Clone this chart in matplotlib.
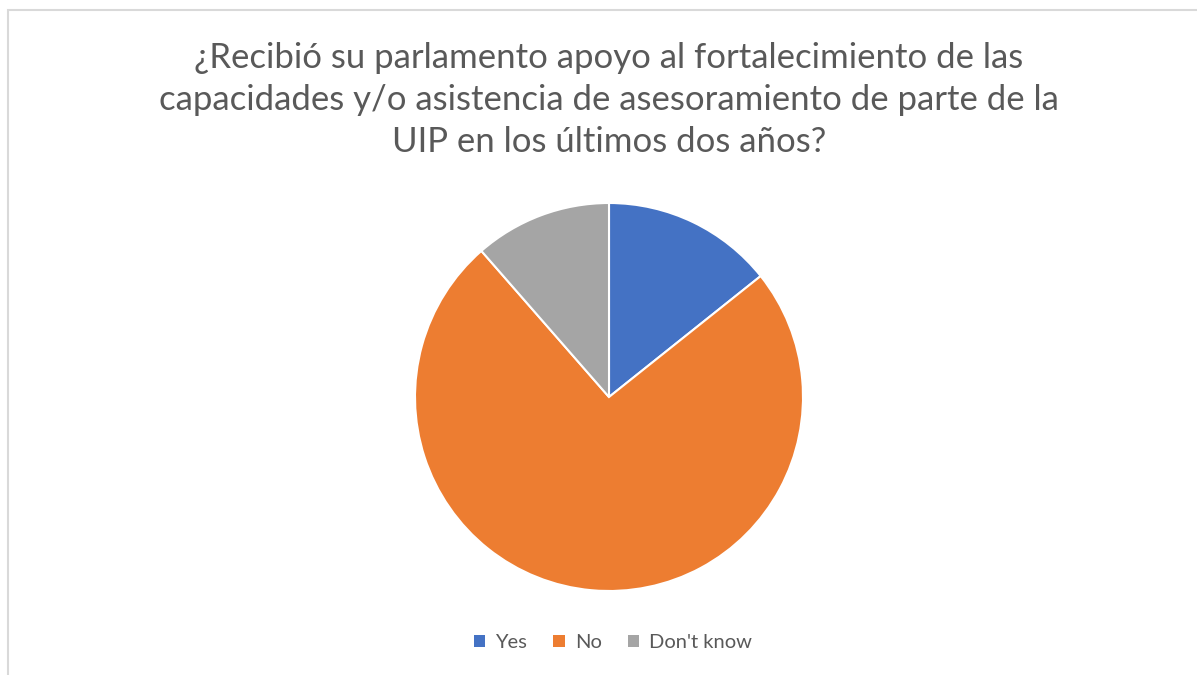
import matplotlib
matplotlib.use('Agg')
import matplotlib.pyplot as plt
from matplotlib.patches import Rectangle, Patch

# survey answers (share of respondents)
labels = ['Yes', 'No', "Don't know"]
values = [5, 26, 4]
colors = ['#4472C4', '#ED7D31', '#A5A5A5']
title = ('¿Recibió su parlamento apoyo al fortalecimiento de las\n'
         'capacidades y/o asistencia de asesoramiento de parte de la\n'
         'UIP en los últimos dos años?')

plt.rcParams['font.family'] = ['Lato', 'DejaVu Sans']

W, H = 1197, 675
fig = plt.figure(figsize=(W / 100, H / 100), dpi=100)

# light frame of the chart area
fig.patches.append(Rectangle((8 / W, -0.05), 1.1, 1 - 10 / H + 0.05,
                             transform=fig.transFigure, fill=False,
                             edgecolor='#D9D9D9', linewidth=1.5))

cx, cy, r = 609, 397, 194
ax = fig.add_axes([(cx - r) / W, (H - cy - r) / H, 2 * r / W, 2 * r / H])
ax.pie(values, colors=colors, startangle=90, counterclock=False,
       wedgeprops=dict(edgecolor='white', linewidth=1.5))
ax.set_xlim(-1, 1)
ax.set_ylim(-1, 1)
ax.set_aspect('equal')
ax.axis('off')

fig.text(609 / W, 1 - 100 / H, title, ha='center', va='center',
         fontsize=25, color='#595959', linespacing=1.4)

handles = [Patch(facecolor=c, edgecolor='none') for c in colors]
fig.legend(handles, labels, loc='center', bbox_to_anchor=(613 / W, 1 - 643 / H),
           ncol=3, frameon=False, fontsize=14.5, labelcolor='#595959',
           handlelength=0.55, handleheight=0.55, handletextpad=0.5,
           columnspacing=1.3)

fig.savefig('out.png', dpi=100)
